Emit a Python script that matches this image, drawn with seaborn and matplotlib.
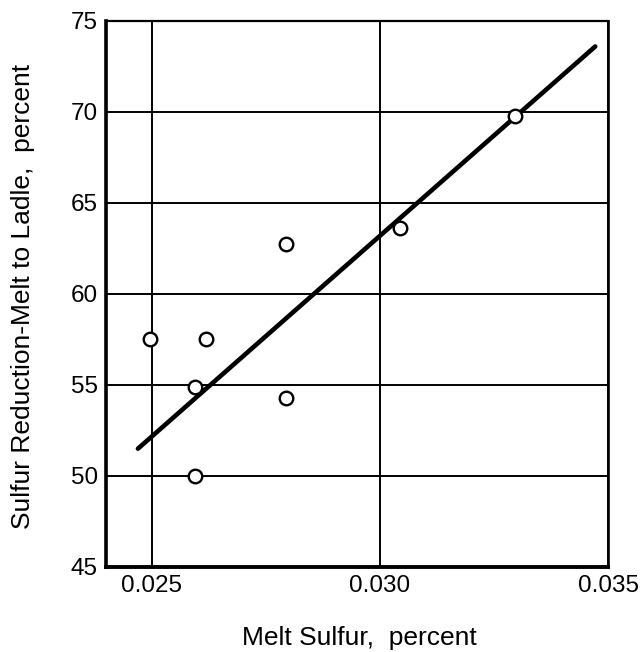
import matplotlib
matplotlib.use("Agg")
import matplotlib.pyplot as plt
import seaborn as sns
import pandas as pd

melt_sulfur = [0.02496, 0.0262, 0.02594, 0.02596, 0.02794, 0.02794, 0.03045, 0.03297]
reduction = [57.5, 57.5, 54.9, 50.0, 62.75, 54.3, 63.6, 69.8]
fit_x = [0.0247, 0.03472]
fit_y = [51.5, 73.6]
x_ticks = [0.025, 0.030, 0.035]
x_tick_labels = ["0.025", "0.030", "0.035"]
y_ticks = [45, 50, 55, 60, 65, 70, 75]

sns.set_style("white")
plt.rcParams['font.family'] = ['Liberation Sans', 'DejaVu Sans']
plt.rcParams.update({"text.color": "black", "axes.labelcolor": "black",
                     "xtick.color": "black", "ytick.color": "black"})

fig = plt.figure(figsize=(6.4, 6.52), dpi=100)
ax = fig.add_axes([0.1656, 0.1304, 0.7844, 0.8374])

pts = pd.DataFrame({"x": melt_sulfur, "y": reduction})
fit = pd.DataFrame({"x": fit_x, "y": fit_y})

sns.lineplot(data=fit, x="x", y="y", ax=ax, color="black", linewidth=3.3,
             solid_capstyle="round", zorder=3)
sns.scatterplot(data=pts, x="x", y="y", ax=ax, s=95, facecolor="white",
                edgecolor="black", linewidth=1.7, zorder=4)

ax.set_xlim(0.024, 0.035)
ax.set_ylim(45, 75)
ax.set_xticks(x_ticks)
ax.set_xticklabels(x_tick_labels)
ax.set_yticks(y_ticks)
ax.tick_params(axis="both", length=0, labelsize=17.5)
ax.tick_params(axis="x", pad=6)
ax.tick_params(axis="y", pad=6)
ax.grid(True, color="black", linewidth=1.4)

ax.spines["left"].set_linewidth(2.6)
ax.spines["bottom"].set_linewidth(2.8)
ax.spines["top"].set_linewidth(1.6)
ax.spines["right"].set_linewidth(1.9)
for s in ax.spines.values():
    s.set_color("black")

ax.set_xlabel("Melt Sulfur,  percent", fontsize=19)
ax.set_ylabel("Sulfur Reduction-Melt to Ladle,  percent", fontsize=19)
ax.xaxis.set_label_coords(0.505, -0.108)
ax.yaxis.set_label_coords(-0.1406, 0.495)

fig.savefig("out.png", dpi=100)
